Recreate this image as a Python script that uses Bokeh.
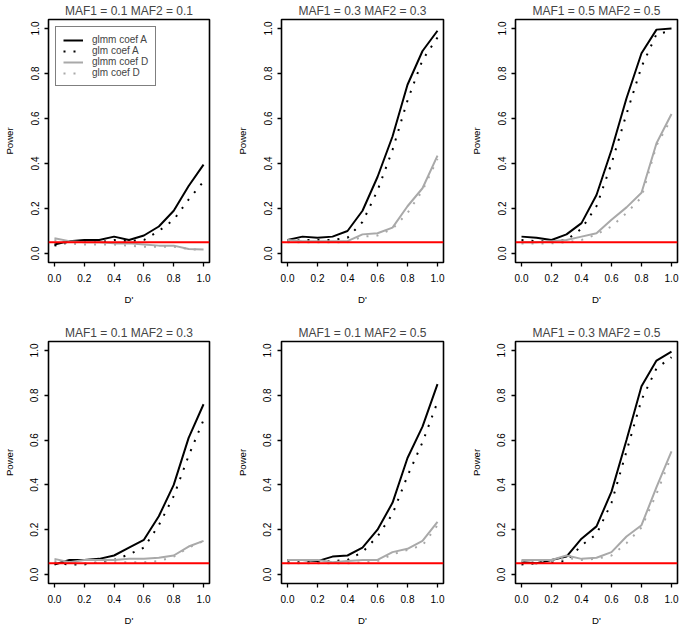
from bokeh.plotting import figure
from bokeh.models import Range1d, FixedTicker, PrintfTickFormatter, Span
from bokeh.layouts import row, column
from bokeh.embed import file_html
from bokeh.resources import INLINE

# ---------------- data ----------------
d_prime = [0.0, 0.1, 0.2, 0.3, 0.4, 0.5, 0.6, 0.7, 0.8, 0.9, 1.0]
tick_values = [0.0, 0.2, 0.4, 0.6, 0.8, 1.0]
alpha_level = 0.05

titles = ["MAF1 = 0.1 MAF2 = 0.1", "MAF1 = 0.3 MAF2 = 0.3", "MAF1 = 0.5 MAF2 = 0.5",
          "MAF1 = 0.1 MAF2 = 0.3", "MAF1 = 0.1 MAF2 = 0.5", "MAF1 = 0.3 MAF2 = 0.5"]
series_names = ["glmm coef A", "glm coef A", "glmm coef D", "glm coef D"]

# panel 1: MAF1 = 0.1, MAF2 = 0.1
p1_glmm_A = [0.040, 0.055, 0.060, 0.060, 0.075, 0.060, 0.080, 0.120, 0.190, 0.300, 0.395]
p1_glm_A  = [0.035, 0.050, 0.055, 0.050, 0.060, 0.055, 0.060, 0.100, 0.150, 0.240, 0.320]
p1_glmm_D = [0.068, 0.055, 0.050, 0.050, 0.045, 0.045, 0.040, 0.035, 0.035, 0.020, 0.018]
p1_glm_D  = [0.060, 0.045, 0.040, 0.040, 0.040, 0.035, 0.030, 0.030, 0.030, 0.020, 0.015]
# panel 2: MAF1 = 0.3, MAF2 = 0.3
p2_glmm_A = [0.060, 0.075, 0.070, 0.075, 0.100, 0.190, 0.340, 0.520, 0.750, 0.900, 0.990]
p2_glm_A  = [0.055, 0.060, 0.060, 0.060, 0.070, 0.140, 0.280, 0.460, 0.680, 0.860, 0.960]
p2_glmm_D = [0.060, 0.055, 0.055, 0.055, 0.055, 0.085, 0.090, 0.115, 0.210, 0.290, 0.435]
p2_glm_D  = [0.050, 0.050, 0.050, 0.050, 0.050, 0.075, 0.080, 0.110, 0.180, 0.280, 0.420]
# panel 3: MAF1 = 0.5, MAF2 = 0.5
p3_glmm_A = [0.075, 0.070, 0.060, 0.085, 0.135, 0.260, 0.460, 0.690, 0.890, 0.995, 1.000]
p3_glm_A  = [0.060, 0.055, 0.055, 0.060, 0.110, 0.210, 0.400, 0.620, 0.830, 0.975, 0.990]
p3_glmm_D = [0.050, 0.050, 0.055, 0.060, 0.075, 0.090, 0.150, 0.205, 0.270, 0.490, 0.620]
p3_glm_D  = [0.045, 0.045, 0.045, 0.050, 0.060, 0.085, 0.120, 0.180, 0.250, 0.480, 0.600]
# panel 4: MAF1 = 0.1, MAF2 = 0.3
p4_glmm_A = [0.045, 0.065, 0.065, 0.070, 0.085, 0.120, 0.155, 0.260, 0.400, 0.610, 0.760]
p4_glm_A  = [0.050, 0.045, 0.045, 0.055, 0.065, 0.090, 0.120, 0.220, 0.350, 0.530, 0.690]
p4_glmm_D = [0.070, 0.055, 0.065, 0.065, 0.065, 0.070, 0.070, 0.075, 0.085, 0.125, 0.150]
p4_glm_D  = [0.060, 0.050, 0.050, 0.055, 0.055, 0.055, 0.055, 0.060, 0.080, 0.120, 0.150]
# panel 5: MAF1 = 0.1, MAF2 = 0.5
p5_glmm_A = [0.065, 0.065, 0.060, 0.080, 0.085, 0.120, 0.200, 0.320, 0.520, 0.660, 0.850]
p5_glm_A  = [0.055, 0.055, 0.055, 0.060, 0.065, 0.100, 0.170, 0.270, 0.440, 0.590, 0.770]
p5_glmm_D = [0.065, 0.065, 0.065, 0.055, 0.060, 0.065, 0.065, 0.100, 0.115, 0.150, 0.235]
p5_glm_D  = [0.050, 0.050, 0.050, 0.050, 0.050, 0.055, 0.060, 0.090, 0.110, 0.130, 0.220]
# panel 6: MAF1 = 0.3, MAF2 = 0.5
p6_glmm_A = [0.055, 0.050, 0.065, 0.080, 0.160, 0.215, 0.370, 0.600, 0.840, 0.955, 0.995]
p6_glm_A  = [0.045, 0.050, 0.055, 0.060, 0.130, 0.180, 0.320, 0.550, 0.780, 0.920, 0.970]
p6_glmm_D = [0.065, 0.065, 0.065, 0.085, 0.070, 0.075, 0.100, 0.170, 0.220, 0.390, 0.550]
p6_glm_D  = [0.060, 0.060, 0.060, 0.075, 0.065, 0.070, 0.085, 0.140, 0.210, 0.360, 0.530]

panels = [
    (p1_glmm_A, p1_glm_A, p1_glmm_D, p1_glm_D),
    (p2_glmm_A, p2_glm_A, p2_glmm_D, p2_glm_D),
    (p3_glmm_A, p3_glm_A, p3_glmm_D, p3_glm_D),
    (p4_glmm_A, p4_glm_A, p4_glmm_D, p4_glm_D),
    (p5_glmm_A, p5_glm_A, p5_glmm_D, p5_glm_D),
    (p6_glmm_A, p6_glm_A, p6_glmm_D, p6_glm_D),
]

# ---------------- styling ----------------
FONT = "Liberation Sans"
GRAY = "#A9A9A9"
styles = [
    dict(line_color="black", line_width=2),
    dict(line_color="black", line_width=2, line_dash="2 8"),
    dict(line_color=GRAY, line_width=2),
    dict(line_color=GRAY, line_width=2, line_dash="2 8"),
]

# (width, min_border_left, min_border_right)
col_geom = [(228, 47, 19), (228, 53, 13), (224, 59, 3)]
# (height, min_border_top, min_border_bottom)
row_geom = [(322, 17, 60), (308, 17, 47)]


def make_panel(idx):
    r, c = divmod(idx, 3)
    w, bl, br = col_geom[c]
    h, bt, bb = row_geom[r]
    p = figure(width=w, height=h, output_backend="svg", toolbar_location=None,
               x_range=Range1d(-0.04, 1.04), y_range=Range1d(-0.04, 1.04),
               min_border_left=bl, min_border_right=br,
               min_border_top=bt, min_border_bottom=bb,
               title=titles[idx])
    p.title.text_font = FONT
    p.title.text_font_size = "12px"
    p.title.text_font_style = "normal"
    p.title.align = "center"
    p.title.standoff = 3
    p.title.offset = 0

    p.background_fill_color = "white"
    p.border_fill_color = "white"
    p.outline_line_color = "black"
    p.outline_line_width = 1.6
    p.grid.grid_line_color = None

    for ax in (p.xaxis, p.yaxis):
        ax.ticker = FixedTicker(ticks=tick_values)
        ax.formatter = PrintfTickFormatter(format="%.1f")
        ax.axis_line_color = None
        ax.major_tick_line_color = "black"
        ax.major_tick_line_width = 1.3
        ax.major_tick_out = 4
        ax.major_tick_in = 0
        ax.minor_tick_line_color = None
        ax.major_label_text_font = FONT
        ax.major_label_text_font_size = "10px"
        ax.major_label_text_color = "black"
        ax.axis_label_text_font = FONT
        ax.axis_label_text_font_size = "9.6px"
        ax.axis_label_text_font_style = "normal"
        ax.axis_label_text_color = "black"

    p.xaxis.axis_label = "D'"
    p.xaxis.major_label_standoff = 7
    p.xaxis.axis_label_standoff = 9
    p.yaxis.axis_label = "Power"
    p.yaxis.major_label_orientation = "vertical"
    p.yaxis.major_label_standoff = 6
    p.yaxis.axis_label_standoff = 13

    for name, ys, st in zip(series_names, panels[idx], styles):
        if idx == 0:
            p.line(d_prime, ys, legend_label=name, **st)
        else:
            p.line(d_prime, ys, **st)

    p.add_layout(Span(location=alpha_level, dimension="width",
                      line_color="#FF0000", line_width=2))

    if idx == 0:
        lg = p.legend[0]
        lg.location = "top_left"
        lg.margin = 7
        lg.padding = 7
        lg.spacing = 0
        lg.glyph_width = 20
        lg.glyph_height = 10
        lg.label_height = 10
        lg.label_standoff = 9
        lg.label_text_font = FONT
        lg.label_text_font_size = "10px"
        lg.border_line_color = "black"
        lg.border_line_width = 1.5
        lg.background_fill_color = "white"
        lg.background_fill_alpha = 1.0
    return p


figs = [make_panel(i) for i in range(6)]
layout = column(row(*figs[:3]), row(*figs[3:]))

open("out.html", "w").write(file_html(layout, INLINE))
